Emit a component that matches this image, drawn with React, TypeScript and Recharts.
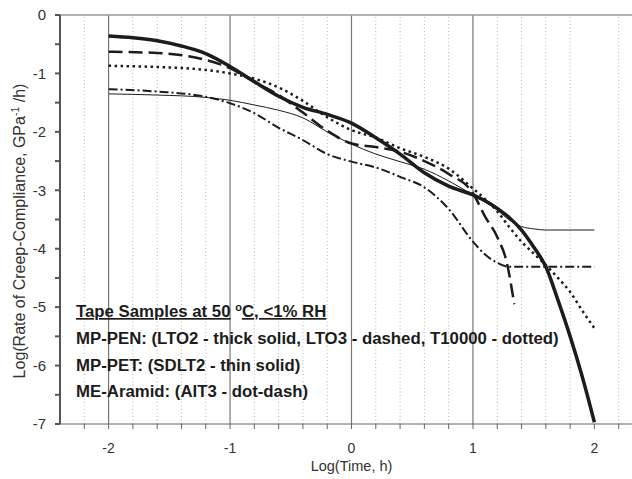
import React from "react";
import { Line, LineChart, ReferenceLine, XAxis, YAxis } from "recharts";

// LTO2 - thick solid
const lto2X = [-2, -1.8, -1.6, -1.4, -1.2, -1, -0.8, -0.6, -0.4, -0.2, 0, 0.2, 0.4, 0.6, 0.8, 1, 1.1, 1.2, 1.3, 1.4, 1.5, 1.6, 1.7, 1.8, 1.9, 2];
const lto2Y = [-0.36, -0.39, -0.44, -0.53, -0.66, -0.88, -1.14, -1.39, -1.58, -1.7, -1.85, -2.1, -2.38, -2.7, -2.93, -3.08, -3.18, -3.31, -3.47, -3.68, -3.97, -4.31, -4.88, -5.5, -6.19, -6.97];

// LTO3 - dashed
const lto3X = [-2, -1.6, -1.2, -1, -0.8, -0.6, -0.4, -0.2, 0, 0.2, 0.4, 0.6, 0.8, 1, 1.1, 1.2, 1.28, 1.34];
const lto3Y = [-0.63, -0.65, -0.77, -0.91, -1.15, -1.37, -1.67, -1.98, -2.2, -2.26, -2.34, -2.5, -2.72, -3.05, -3.45, -3.8, -4.25, -4.95];

// T10000 - dotted
const t10kX = [-2, -1.6, -1.2, -1, -0.8, -0.6, -0.4, -0.2, 0, 0.2, 0.4, 0.6, 0.8, 1, 1.1, 1.2, 1.3, 1.4, 1.5, 1.6, 1.7, 1.8, 1.9, 2];
const t10kY = [-0.87, -0.89, -0.94, -1.0, -1.09, -1.24, -1.47, -1.75, -1.97, -2.1, -2.28, -2.43, -2.63, -2.97, -3.15, -3.36, -3.63, -3.88, -4.08, -4.28, -4.5, -4.74, -5.06, -5.36];

// SDLT2 - thin solid
const sdlt2X = [-2, -1.6, -1.2, -1, -0.8, -0.6, -0.4, -0.2, 0, 0.2, 0.4, 0.6, 0.8, 1, 1.2, 1.3, 1.4, 1.5, 1.6, 2];
const sdlt2Y = [-1.35, -1.37, -1.41, -1.46, -1.54, -1.63, -1.76, -2.0, -2.21, -2.38, -2.51, -2.64, -2.84, -3.08, -3.34, -3.51, -3.62, -3.66, -3.68, -3.68];

// AIT3 - dot-dash
const ait3X = [-2, -1.6, -1.2, -1, -0.8, -0.6, -0.4, -0.2, 0, 0.2, 0.4, 0.6, 0.8, 1, 1.1, 1.2, 1.3, 2];
const ait3Y = [-1.27, -1.31, -1.4, -1.51, -1.68, -1.93, -2.14, -2.38, -2.51, -2.61, -2.77, -2.95, -3.32, -3.88, -4.1, -4.24, -4.31, -4.31];

const xTicks = [-2.2, -2, -1.8, -1.6, -1.4, -1.2, -1, -0.8, -0.6, -0.4, -0.2, 0, 0.2, 0.4, 0.6, 0.8, 1, 1.2, 1.4, 1.6, 1.8, 2, 2.2];
const yTicks = [0, -0.5, -1, -1.5, -2, -2.5, -3, -3.5, -4, -4.5, -5, -5.5, -6, -6.5, -7];
const majorX = [-2, -1, 0, 1];
const minorX = [-2.2, -1.8, -1.6, -1.4, -1.2, -0.8, -0.6, -0.4, -0.2, 0.2, 0.4, 0.6, 0.8, 1.2, 1.4, 1.6, 1.8, 2.2];

const zip = (xs: number[], ys: number[]) => xs.map((x, i) => ({ x, y: ys[i] }));

const FONT = "'Liberation Sans', Arial, sans-serif";
const INK = "#1c1c1c";
const intOnly = (v: number) => (Math.abs(v - Math.round(v)) < 1e-6 ? String(Math.round(v)) : "");

export default function App() {
  return (
    <div style={{ position: "absolute", left: 0, top: 0, width: 632, height: 479, overflow: "hidden", background: "#fff" }}>
      <LineChart width={643} height={479} margin={{ top: 15, right: 0, left: 0, bottom: 25 }}>
        {minorX.map((x) => (
          <ReferenceLine key={"m" + x} x={x} stroke="#b4b4b4" strokeWidth={1} strokeDasharray="1 2.5" />
        ))}
        {majorX.map((x) => (
          <ReferenceLine key={"M" + x} x={x} stroke="#777" strokeWidth={1.2} />
        ))}
        <ReferenceLine y={0} stroke="#999" strokeWidth={1.5} />
        <XAxis
          type="number"
          dataKey="x"
          domain={[-2.4, 2.4]}
          ticks={xTicks}
          tickFormatter={intOnly}
          interval={0}
          allowDataOverflow
          height={30}
          stroke="#666"
          tickSize={5}
          tickMargin={14}
          tick={{ fill: "#333", fontSize: 14, fontFamily: FONT }}
          label={{ value: "Log(Time, h)", position: "bottom", offset: 7, fill: "#333", fontSize: 14.5, fontFamily: FONT }}
        />
        <YAxis
          type="number"
          dataKey="y"
          domain={[-7, 0]}
          ticks={yTicks}
          tickFormatter={intOnly}
          interval={0}
          allowDataOverflow
          width={60}
          stroke="#555"
          strokeWidth={2}
          tickSize={5}
          tickMargin={9}
          tick={{ fill: "#333", fontSize: 15, fontFamily: FONT }}
        />
        <Line data={zip(sdlt2X, sdlt2Y)} dataKey="y" type="monotone" stroke={INK} strokeWidth={1} dot={false} isAnimationActive={false} />
        <Line data={zip(ait3X, ait3Y)} dataKey="y" type="monotone" stroke={INK} strokeWidth={2} strokeDasharray="9 3 2 3" dot={false} isAnimationActive={false} />
        <Line data={zip(t10kX, t10kY)} dataKey="y" type="monotone" stroke={INK} strokeWidth={2.5} strokeDasharray="2.5 3.5" dot={false} isAnimationActive={false} />
        <Line data={zip(lto3X, lto3Y)} dataKey="y" type="monotone" stroke={INK} strokeWidth={2.5} strokeDasharray="14 6" dot={false} isAnimationActive={false} />
        <Line data={zip(lto2X, lto2Y)} dataKey="y" type="monotone" stroke={INK} strokeWidth={3.5} dot={false} isAnimationActive={false} />
      </LineChart>
      <svg width={632} height={479} style={{ position: "absolute", left: 0, top: 0, pointerEvents: "none" }}>
        <text
          transform="translate(25,231) rotate(-90)"
          textAnchor="middle"
          fill="#333"
          fontSize={16}
          fontFamily={FONT}
        >
          Log(Rate of Creep-Compliance, GPa
          <tspan fontSize={10.5} dy={-6}>-1</tspan>
          <tspan dy={6}> /h)</tspan>
        </text>
        <g fontFamily={FONT} fontWeight="bold" fontSize={16.8} fill={INK}>
          <text x={76} y={317}>
            <tspan textDecoration="underline">Tape Samples at 50</tspan>
            <tspan> </tspan>
            <tspan fontSize={11} dy={-6}>o</tspan>
            <tspan dy={6} textDecoration="underline">C, &lt;1% RH</tspan>
          </text>
          <text x={76} y={344}>MP-PEN: (LTO2 - thick solid, LTO3 - dashed, T10000 - dotted)</text>
          <text x={76} y={371}>MP-PET: (SDLT2 - thin solid)</text>
          <text x={76} y={397}>ME-Aramid: (AIT3 - dot-dash)</text>
        </g>
      </svg>
    </div>
  );
}
